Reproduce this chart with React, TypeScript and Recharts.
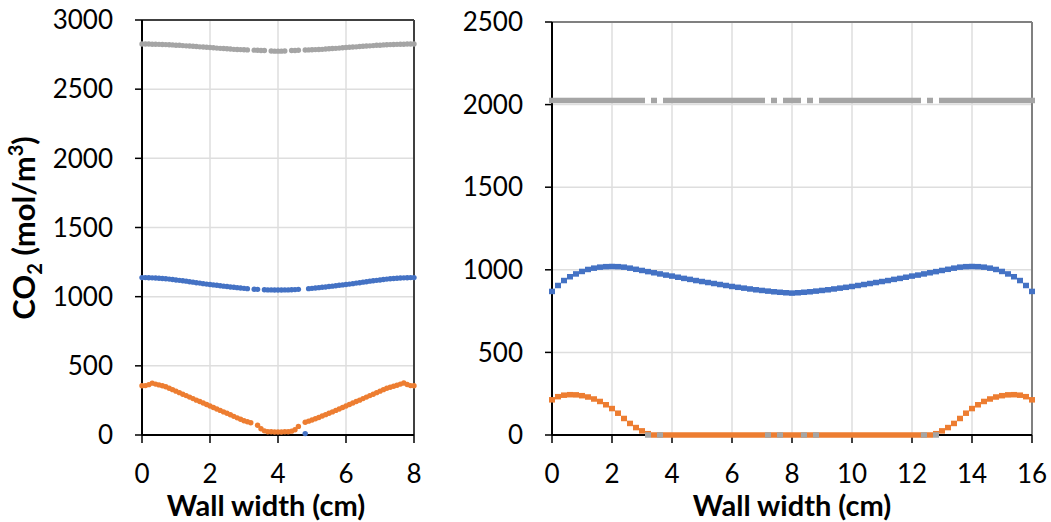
import React from "react";
import {
  ScatterChart,
  Scatter,
  XAxis,
  YAxis,
  CartesianGrid,
  ReferenceLine,
} from "recharts";

// left panel: 8 cm wall, right panel: 16 cm wall
const xLeft = [
  0, 0.1, 0.2, 0.3, 0.4, 0.5, 0.6, 0.7, 0.8, 0.9, 1.0, 1.1, 1.2, 1.3, 1.4, 1.5, 1.6, 1.7, 1.8, 1.9,
  2.0, 2.1, 2.2, 2.3, 2.4, 2.5, 2.6, 2.7, 2.8, 2.9, 3.0, 3.1, 3.2, 3.3, 3.4, 3.5, 3.6, 3.7, 3.8, 3.9,
  4.0, 4.1, 4.2, 4.3, 4.4, 4.5, 4.6, 4.7, 4.8, 4.9, 5.0, 5.1, 5.2, 5.3, 5.4, 5.5, 5.6, 5.7, 5.8, 5.9,
  6.0, 6.1, 6.2, 6.3, 6.4, 6.5, 6.6, 6.7, 6.8, 6.9, 7.0, 7.1, 7.2, 7.3, 7.4, 7.5, 7.6, 7.7, 7.8, 7.9,
  8.0,
];

const grayLeft = [
  2826, 2826, 2826, 2825, 2825, 2824, 2823, 2822, 2821, 2820, 2818, 2817, 2815, 2813, 2812, 2810, 2808, 2806, 2805, 2803,
  2801, 2799, 2797, 2795, 2794, 2792, 2790, 2788, 2787, 2786, 2785, 2784, null, 2782, 2781, 2780, 2779, null, 2776, 2775,
  2775, 2775, 2776, null, 2779, 2780, 2781, null, 2783, 2784, 2785, 2786, 2787, 2788, 2790, 2792, 2794, 2795, 2797, 2799,
  2801, 2803, 2805, 2806, 2808, 2810, 2812, 2813, 2815, 2817, 2818, 2820, 2821, 2822, 2823, 2824, 2825, 2825, 2826, 2826,
  2826,
];

const blueLeft = [
  1138, 1138, 1137, 1136, 1135, 1133, 1131, 1129, 1127, 1124, 1121, 1118, 1115, 1112, 1108, 1105, 1101, 1098, 1094, 1091,
  1088, 1085, 1082, 1079, 1076, 1073, 1070, 1068, 1065, 1063, 1060, 1058, null, 1054, 1053, null, 1050, 1049, 1049, 1048,
  1048, 1048, 1049, 1049, 1050, 1051, 1053, null, 10, 1058, 1060, 1063, 1065, 1068, 1070, 1073, 1076, 1079, 1082, 1085,
  1088, 1091, 1094, 1098, 1101, 1105, 1108, 1112, 1115, 1118, 1121, 1124, 1127, 1129, 1131, 1133, 1135, 1136, 1137, 1138,
  1138,
];

const orangeLeft = [
  356, 357, 364, 375, 368, 362, 356, 349, 338, 328, 317, 306, 295, 285, 274, 263, 252, 242, 231, 220,
  210, 199, 188, 178, 167, 157, 146, 135, 124, 114, 103, 96, 89, null, 70, 45, 30, 24, 23, 22,
  22, 22, 23, 24, 28, 38, 62, null, 92, 100, 108, 117, 127, 137, 147, 157, 167, 178, 188, 199,
  210, 220, 231, 242, 252, 263, 274, 285, 295, 306, 317, 328, 338, 345, 352, 360, 368, 376, 365, 357,
  356,
];

const xRight = [
  0, 0.2, 0.4, 0.6, 0.8, 1.0, 1.2, 1.4, 1.6, 1.8, 2.0, 2.2, 2.4, 2.6, 2.8, 3.0, 3.2, 3.4, 3.6, 3.8,
  4.0, 4.2, 4.4, 4.6, 4.8, 5.0, 5.2, 5.4, 5.6, 5.8, 6.0, 6.2, 6.4, 6.6, 6.8, 7.0, 7.2, 7.4, 7.6, 7.8,
  8.0, 8.2, 8.4, 8.6, 8.8, 9.0, 9.2, 9.4, 9.6, 9.8, 10.0, 10.2, 10.4, 10.6, 10.8, 11.0, 11.2, 11.4, 11.6, 11.8,
  12.0, 12.2, 12.4, 12.6, 12.8, 13.0, 13.2, 13.4, 13.6, 13.8, 14.0, 14.2, 14.4, 14.6, 14.8, 15.0, 15.2, 15.4, 15.6, 15.8,
  16.0,
];

const grayRight = [
  2025, 2025, 2025, 2025, 2025, 2025, 2025, 2025, 2025, 2025, 2025, 2025, 2025, 2025, 2025, 2025, 0, 2025, 0, 2025,
  2025, 2025, 2025, 2025, 2025, 2025, 2025, 2025, 2025, 2025, 2025, 2025, 2025, 2025, 2025, 2025, 0, 2025, 0, 2025,
  2025, 2025, 0, 2025, 0, 2025, 2025, 2025, 2025, 2025, 2025, 2025, 2025, 2025, 2025, 2025, 2025, 2025, 2025, 2025,
  2025, 2025, 0, 2025, 0, 2025, 2025, 2025, 2025, 2025, 2025, 2025, 2025, 2025, 2025, 2025, 2025, 2025, 2025, 2025,
  2025,
];

const blueRight = [
  869, 905, 935, 958, 975, 990, 1002, 1010, 1016, 1019, 1020, 1019, 1016, 1010, 1003, 996, 989, 982, 975, 968,
  962, 955, 948, 942, 935, 929, 923, 917, 911, 905, 899, 894, 889, 884, 879, 875, 871, 867, 864, 861,
  859, 861, 864, 867, 871, 875, 879, 884, 889, 894, 899, 905, 911, 917, 923, 929, 935, 942, 948, 955,
  962, 968, 975, 982, 989, 996, 1003, 1010, 1016, 1019, 1020, 1019, 1016, 1010, 1002, 990, 975, 958, 935, 905,
  869,
];

const orangeRight = [
  213, 232, 241, 244, 243, 238, 230, 218, 203, 183, 160, 132, 100, 70, 45, 25, 8, 0, 0, 0,
  0, 0, 0, 0, 0, 0, 0, 0, 0, 0, 0, 0, 0, 0, 0, 0, 0, 0, 0, 0,
  0, 0, 0, 0, 0, 0, 0, 0, 0, 0, 0, 0, 0, 0, 0, 0, 0, 0, 0, 0,
  0, 0, 0, 0, 8, 25, 45, 70, 100, 132, 160, 183, 203, 218, 230, 238, 243, 244, 241, 232,
  213,
];

const xTicksLeft = [0, 2, 4, 6, 8];
const yTicksLeft = [0, 500, 1000, 1500, 2000, 2500, 3000];
const xTicksRight = [0, 2, 4, 6, 8, 10, 12, 14, 16];
const yTicksRight = [0, 500, 1000, 1500, 2000, 2500];

const BLUE = "#4472C4";
const ORANGE = "#ED7D31";
const GRAY = "#A5A5A5";
const FONT = "Lato, 'Noto Sans', sans-serif";

const pts = (xs: number[], ys: (number | null)[]) =>
  xs.map((x, i) => ({ x, y: ys[i] })).filter((p) => p.y !== null);

const dot = (color: string) => (props: any) =>
  <circle cx={props.cx} cy={props.cy} r={2.7} fill={color} />;

const square = (color: string) => (props: any) =>
  <rect x={props.cx - 3} y={props.cy - 2.75} width={6} height={5.5} fill={color} />;

const tickStyle = { fill: "#000", fontSize: 26, fontFamily: FONT };
const titleStyle = { fill: "#000", fontSize: 29, fontWeight: 700, fontFamily: FONT };

function YTitle() {
  const cx = 35;
  const cy = 228;
  return (
    <text
      x={cx}
      y={cy}
      textAnchor="middle"
      transform={`rotate(-90 ${cx} ${cy})`}
      style={{ ...titleStyle, fontSize: 31 }}
    >
      CO
      <tspan dy={7} fontSize={20}>2</tspan>
      <tspan dy={-7}> (mol/m</tspan>
      <tspan dy={-12} fontSize={20}>3</tspan>
      <tspan dy={12}>)</tspan>
    </text>
  );
}

function Panel(props: {
  width: number;
  margin: any;
  yWidth: number;
  xMax: number;
  yMax: number;
  xTicks: number[];
  yTicks: number[];
  blue: any[];
  orange: any[];
  gray: any[];
  border: string;
  titleDx: number;
  marker: (c: string) => (p: any) => any;
  yTitle?: boolean;
}) {
  const m = props.marker;
  return (
    <ScatterChart width={props.width} height={522} margin={props.margin}>
      <CartesianGrid stroke="#dedede" strokeWidth={1.5} />
      <XAxis
        type="number"
        dataKey="x"
        domain={[0, props.xMax]}
        ticks={props.xTicks}
        interval={0}
        height={80}
        tickSize={8}
        tickMargin={22}
        tick={tickStyle}
        axisLine={{ stroke: "#000", strokeWidth: 2 }}
        tickLine={{ stroke: "#000", strokeWidth: 1.5 }}
        label={{
          value: "Wall width (cm)",
          position: "insideBottom",
          offset: -1,
          dx: props.titleDx,
          style: titleStyle,
        }}
      />
      <YAxis
        type="number"
        dataKey="y"
        domain={[0, props.yMax]}
        ticks={props.yTicks}
        interval={0}
        width={props.yWidth}
        tickSize={7}
        tickMargin={22}
        tick={tickStyle}
        axisLine={{ stroke: "#000", strokeWidth: 2 }}
        tickLine={{ stroke: "#000", strokeWidth: 1.5 }}
        label={props.yTitle ? <YTitle /> : undefined}
      />
      <ReferenceLine y={props.yMax} stroke={props.border} strokeWidth={2} />
      <ReferenceLine x={props.xMax} stroke={props.border} strokeWidth={2} />
      <Scatter data={props.blue} shape={m(BLUE)} isAnimationActive={false} />
      <Scatter data={props.orange} shape={m(ORANGE)} isAnimationActive={false} />
      <Scatter data={props.gray} shape={m(GRAY)} isAnimationActive={false} />
    </ScatterChart>
  );
}

export default function App() {
  return (
    <div
      style={{
        position: "absolute",
        left: 0,
        top: 0,
        width: 1051,
        height: 522,
        background: "#fff",
        fontFamily: FONT,
      }}
    >
      <div style={{ position: "absolute", left: 0, top: 0 }}>
        <Panel
          width={430}
          margin={{ top: 20, right: 16, bottom: 7, left: 0 }}
          yWidth={142}
          xMax={8}
          yMax={3000}
          xTicks={xTicksLeft}
          yTicks={yTicksLeft}
          blue={pts(xLeft, blueLeft)}
          orange={pts(xLeft, orangeLeft)}
          gray={pts(xLeft, grayLeft)}
          border="#404040"
          titleDx={-12}
          marker={dot}
          yTitle
        />
      </div>
      <div style={{ position: "absolute", left: 430, top: 0 }}>
        <Panel
          width={621}
          margin={{ top: 22, right: 19, bottom: 7, left: 0 }}
          yWidth={122}
          xMax={16}
          yMax={2500}
          xTicks={xTicksRight}
          yTicks={yTicksRight}
          blue={pts(xRight, blueRight)}
          orange={pts(xRight, orangeRight)}
          gray={pts(xRight, grayRight)}
          border="#808080"
          titleDx={0}
          marker={square}
        />
      </div>
    </div>
  );
}
